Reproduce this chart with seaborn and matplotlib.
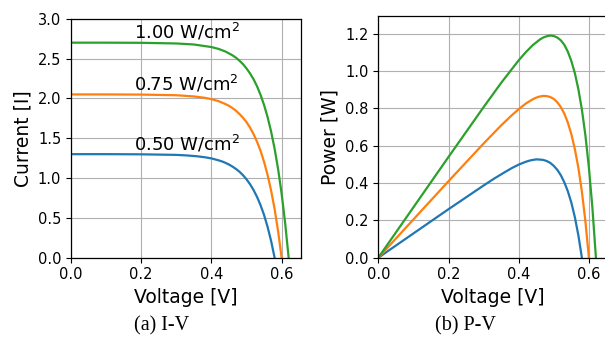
import matplotlib
matplotlib.use("Agg")
import matplotlib.pyplot as plt
import pandas as pd
import seaborn as sns

# irradiance levels
LEVELS = ["0.50 W/cm$^2$", "0.75 W/cm$^2$", "1.00 W/cm$^2$"]
ISC = [1.30, 2.05, 2.70]

# voltage samples per curve
V_050 = [0, 0.1, 0.2, 0.3, 0.33, 0.36, 0.38, 0.40, 0.42, 0.43, 0.44, 0.45, 0.46,
         0.47, 0.48, 0.49, 0.50, 0.51, 0.52, 0.53, 0.54, 0.55, 0.56, 0.57, 0.58]
V_075 = [0, 0.1, 0.2, 0.3, 0.35, 0.38, 0.40, 0.42, 0.44, 0.45, 0.46, 0.47, 0.48,
         0.49, 0.50, 0.51, 0.52, 0.53, 0.54, 0.55, 0.56, 0.57, 0.58, 0.59, 0.60]
V_100 = [0, 0.1, 0.2, 0.3, 0.35, 0.40, 0.42, 0.44, 0.46, 0.47, 0.48, 0.49, 0.50,
         0.51, 0.52, 0.53, 0.54, 0.55, 0.56, 0.57, 0.58, 0.59, 0.60, 0.61, 0.62]

I_050 = [1.30, 1.30, 1.298, 1.291, 1.284, 1.273, 1.262, 1.247, 1.223, 1.209, 1.191,
         1.170, 1.144, 1.114, 1.079, 1.036, 0.984, 0.923, 0.850, 0.763, 0.659,
         0.536, 0.387, 0.211, 0.0]
I_075 = [2.05, 2.05, 2.048, 2.04, 2.025, 2.008, 1.991, 1.966, 1.929, 1.907, 1.878,
         1.845, 1.804, 1.757, 1.702, 1.634, 1.552, 1.456, 1.341, 1.203, 1.039,
         0.845, 0.611, 0.332, 0.0]
I_100 = [2.70, 2.70, 2.698, 2.69, 2.677, 2.645, 2.622, 2.589, 2.541, 2.511, 2.473,
         2.43, 2.376, 2.314, 2.241, 2.152, 2.044, 1.917, 1.766, 1.585, 1.369,
         1.112, 0.805, 0.437, 0.0]

P_050 = [0, 0.130, 0.260, 0.387, 0.424, 0.458, 0.480, 0.499, 0.514, 0.520, 0.524,
         0.527, 0.526, 0.524, 0.518, 0.508, 0.492, 0.471, 0.442, 0.404, 0.356,
         0.295, 0.217, 0.120, 0.0]
P_075 = [0, 0.205, 0.410, 0.612, 0.709, 0.763, 0.796, 0.826, 0.849, 0.858, 0.864,
         0.867, 0.866, 0.861, 0.851, 0.833, 0.807, 0.772, 0.724, 0.662, 0.582,
         0.482, 0.354, 0.196, 0.0]
P_100 = [0, 0.270, 0.540, 0.807, 0.937, 1.058, 1.101, 1.139, 1.169, 1.180, 1.187,
         1.191, 1.188, 1.180, 1.165, 1.141, 1.104, 1.054, 0.989, 0.903, 0.794,
         0.656, 0.483, 0.267, 0.0]

IV_TICKS = [0.0, 0.5, 1.0, 1.5, 2.0, 2.5, 3.0]
PV_TICKS = [0.0, 0.2, 0.4, 0.6, 0.8, 1.0, 1.2]
V_TICKS = [0.0, 0.2, 0.4, 0.6]

frames = []
for level, v, i, p in zip(LEVELS, [V_050, V_075, V_100], [I_050, I_075, I_100],
                          [P_050, P_075, P_100]):
    frames.append(pd.DataFrame({"level": level, "V": v, "I": i, "P": p}))
df = pd.concat(frames, ignore_index=True)

sns.set_style("ticks", {"axes.grid": True, "grid.color": "#b0b0b0",
                        "axes.edgecolor": "black", "xtick.color": "black",
                        "ytick.color": "black", "text.color": "black",
                        "axes.labelcolor": "black"})
plt.rcParams["font.family"] = ["DejaVu Sans"]
plt.rcParams["grid.linewidth"] = 0.8

palette = sns.color_palette("tab10", 3)

fig = plt.figure(figsize=(6.05, 3.37), dpi=100)
ax1 = fig.add_axes([0.1174, 0.2353, 0.380, 0.709])
ax2 = fig.add_axes([0.6253, 0.2353, 0.380, 0.717])

for k, level in enumerate(LEVELS):
    sub = df[df["level"] == level]
    sns.lineplot(data=sub, x="V", y="I", ax=ax1, color=palette[k],
                 linewidth=1.6, sort=False, estimator=None)
    sns.lineplot(data=sub, x="V", y="P", ax=ax2, color=palette[k],
                 linewidth=1.6, sort=False, estimator=None)
    ax1.text(0.18, ISC[k] + 0.05, level, fontsize=13, ha="left",
             va="baseline", color="black")

ax1.set_xlim(0, 0.655)
ax1.set_ylim(0, 3.0)
ax1.set_yticks(IV_TICKS)
ax1.set_ylabel("Current [I]", fontsize=13.5)

ax2.set_xlim(0, 0.655)
ax2.set_ylim(0, 1.295)
ax2.set_yticks(PV_TICKS)
ax2.set_ylabel("Power [W]", fontsize=13.5)

for ax in (ax1, ax2):
    ax.set_xticks(V_TICKS)
    ax.set_xlabel("Voltage [V]", fontsize=13.5)
    ax.tick_params(labelsize=10.5, length=3.5, width=0.8)
    for s in ax.spines.values():
        s.set_visible(True)
        s.set_linewidth(0.9)

fig.text(0.267, 0.02, "(a) I-V", ha="center", va="baseline",
         family="Liberation Serif", fontsize=14.5, color="black")
fig.text(0.769, 0.02, "(b) P-V", ha="center", va="baseline",
         family="Liberation Serif", fontsize=14.5, color="black")

fig.savefig("out.png", dpi=100)
